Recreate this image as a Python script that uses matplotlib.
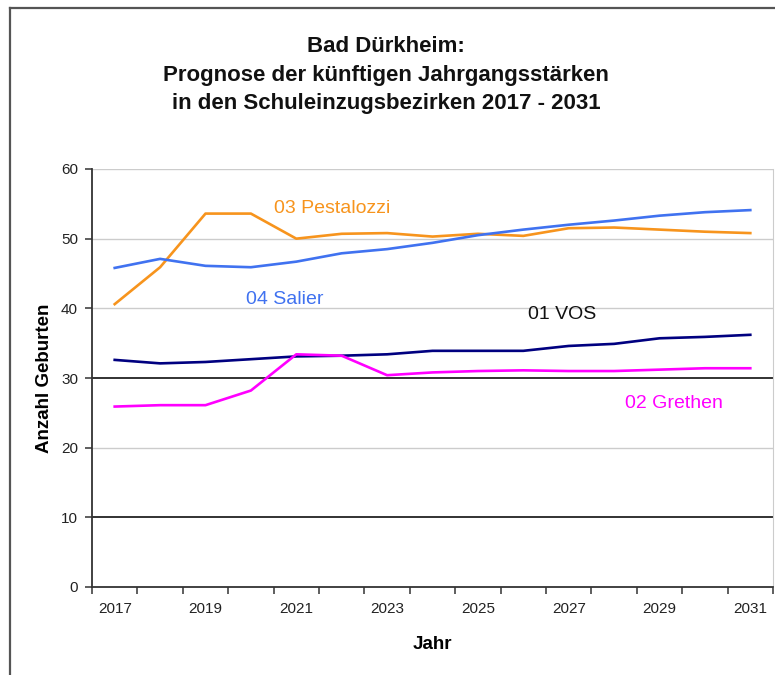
import matplotlib
matplotlib.use("Agg")
import matplotlib.pyplot as plt
from matplotlib.lines import Line2D
import numpy as np

plt.rcParams['font.family'] = ['Liberation Sans', 'DejaVu Sans']

years = list(range(2017, 2032))
vos = [32.6, 32.1, 32.3, 32.7, 33.1, 33.2, 33.4, 33.9, 33.9, 33.9, 34.6, 34.9, 35.7, 35.9, 36.2]
grethen = [25.9, 26.1, 26.1, 28.2, 33.4, 33.2, 30.4, 30.8, 31.0, 31.1, 31.0, 31.0, 31.2, 31.4, 31.4]
pestalozzi = [40.6, 45.9, 53.6, 53.6, 50.0, 50.7, 50.8, 50.3, 50.7, 50.4, 51.5, 51.6, 51.3, 51.0, 50.8]
salier = [45.8, 47.1, 46.1, 45.9, 46.7, 47.9, 48.5, 49.4, 50.5, 51.3, 52.0, 52.6, 53.3, 53.8, 54.1]
yticks = [0, 10, 20, 30, 40, 50, 60]

W, H = 775, 675
fig = plt.figure(figsize=(W / 100, H / 100), dpi=100)

# outer chart frame (left and top visible)
fig.add_artist(Line2D([10 / W, 10 / W], [0, 1 - 8 / H], color='#555555', lw=1.6, transform=fig.transFigure))
fig.add_artist(Line2D([10 / W, 1], [1 - 8 / H, 1 - 8 / H], color='#555555', lw=1.6, transform=fig.transFigure))

x0, x1, y0, y1 = 92, 773, 587, 169
ax = fig.add_axes([x0 / W, (H - y0) / H, (x1 - x0) / W, (y0 - y1) / H])

x = np.arange(len(years))
ax.plot(x, pestalozzi, color='#f7941d', lw=1.9, solid_joinstyle='round')
ax.plot(x, salier, color='#4072f0', lw=1.9, solid_joinstyle='round')
ax.plot(x, vos, color='#000080', lw=1.9, solid_joinstyle='round')
ax.plot(x, grethen, color='#ff00ff', lw=1.9, solid_joinstyle='round')

for v in yticks[1:]:
    if v in (10, 30):
        ax.axhline(v, color='#222222', lw=1.3, zorder=0)
    else:
        ax.axhline(v, color='#cccccc', lw=1.0, zorder=0)

ax.set_xlim(-0.5, len(years) - 0.5)
ax.set_ylim(0, 60)
ax.set_yticks(yticks)
ax.set_yticklabels([str(v) for v in yticks], fontsize=11, color='#222222')
ax.set_xticks(x[::2])
ax.set_xticklabels([str(y) for y in years[::2]], fontsize=11, color='#222222')
ax.tick_params(axis='x', which='major', length=0, pad=11)
ax.set_xticks(np.arange(-0.5, len(years), 1), minor=True)
ax.tick_params(axis='x', which='minor', length=5, width=1.1, color='#333333', direction='out')
ax.tick_params(axis='y', length=5, width=1.1, color='#333333', direction='out', pad=5)

ax.spines['top'].set_visible(False)
ax.spines['right'].set_color('#cccccc')
ax.spines['left'].set_color('#333333')
ax.spines['bottom'].set_color('#333333')
ax.spines['left'].set_linewidth(1.3)
ax.spines['bottom'].set_linewidth(1.3)

ax.set_xlabel('Jahr', fontsize=13.5, fontweight='bold', labelpad=14)
ax.set_ylabel('Anzahl Geburten', fontsize=13.5, fontweight='bold', labelpad=6)

# series labels
lab_fs = 14
ax.text(3.5, 54.3, '03 Pestalozzi', color='#f7941d', fontsize=lab_fs, va='center', ha='left')
ax.text(2.9, 41.3, '04 Salier', color='#4072f0', fontsize=lab_fs, va='center', ha='left')
ax.text(9.1, 39.1, '01 VOS', color='#111111', fontsize=lab_fs, va='center', ha='left')
ax.text(11.25, 26.3, '02 Grethen', color='#ff00ff', fontsize=lab_fs, va='center', ha='left')

fig.text(386 / W, 1 - 75 / H,
         'Bad Dürkheim:\nPrognose der künftigen Jahrgangsstärken\nin den Schuleinzugsbezirken 2017 - 2031',
         ha='center', va='center', fontsize=16, fontweight='bold', linespacing=1.45, color='#111111')

fig.savefig('out.png', dpi=100)
